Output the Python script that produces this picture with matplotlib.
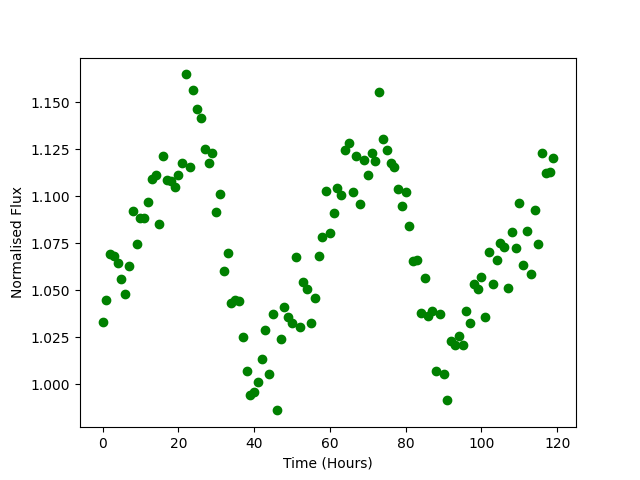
import numpy as np
import matplotlib
matplotlib.use('Agg')
import matplotlib.pyplot as plt

# hourly samples, flux
time_hours = np.arange(120)
flux = [1.0332, 1.0448, 1.0692, 1.0681, 1.0643, 1.0559, 1.0483, 1.0627, 1.0920, 1.0745,
        1.0887, 1.0887, 1.0972, 1.1094, 1.1111, 1.0851, 1.1216, 1.1085, 1.1081, 1.1049,
        1.1111, 1.1179, 1.1648, 1.1158, 1.1566, 1.1466, 1.1418, 1.1253, 1.1179, 1.1232,
        1.0919, 1.1014, 1.0602, 1.0701, 1.0435, 1.0448, 1.0442, 1.0250, 1.0069, 0.9943,
        0.9958, 1.0011, 1.0133, 1.0292, 1.0053, 1.0372, 0.9862, 1.0239, 1.0412, 1.0356,
        1.0329, 1.0680, 1.0306, 1.0543, 1.0508, 1.0324, 1.0462, 1.0685, 1.0784, 1.1030,
        1.0807, 1.0913, 1.1042, 1.1005, 1.1248, 1.1283, 1.1025, 1.1216, 1.0961, 1.1195,
        1.1115, 1.1228, 1.1189, 1.1556, 1.1306, 1.1244, 1.1179, 1.1158, 1.1037, 1.0947,
        1.1025, 1.0841, 1.0658, 1.0664, 1.0382, 1.0568, 1.0364, 1.0393, 1.0069, 1.0372,
        1.0058, 0.9915, 1.0230, 1.0212, 1.0256, 1.0212, 1.0393, 1.0329, 1.0533, 1.0508,
        1.0573, 1.0356, 1.0706, 1.0536, 1.0664, 1.0752, 1.0731, 1.0515, 1.0812, 1.0727,
        1.0966, 1.0637, 1.0818, 1.0589, 1.0929, 1.0745, 1.1232, 1.1126, 1.1131, 1.1205]

fig = plt.figure(figsize=(6.4, 4.8), dpi=100)
plt.plot(time_hours, flux, 'go')
plt.xlabel('Time (Hours)')
plt.ylabel('Normalised Flux')
plt.savefig('out.png')
